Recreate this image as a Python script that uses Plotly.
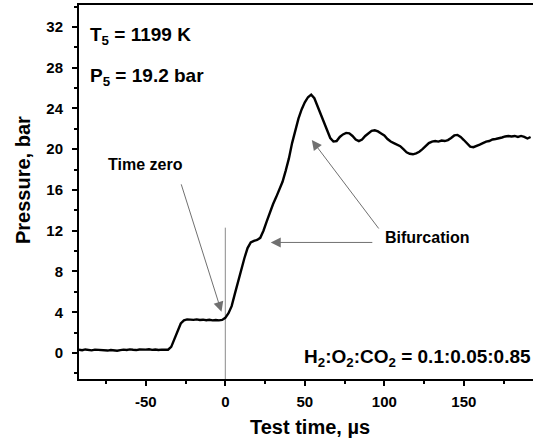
import plotly.graph_objects as go

time_us = [-92, -90, -88, -86, -84, -82, -80, -78, -76, -74, -72, -70, -68, -66, -64, -62, -60,
           -58, -56, -54, -52, -50, -48, -46, -44, -42, -40, -38, -36, -34, -32, -30, -28, -26,
           -24, -22, -20, -18, -16, -14, -12, -10, -8, -6, -4, -2, 0, 2, 4, 6, 8, 10, 12, 14,
           16, 18, 20, 22, 24, 26, 28, 30, 32, 34, 36, 38, 40, 42, 44, 46, 48, 50, 52, 54, 56,
           58, 60, 62, 64, 66, 68, 70, 72, 74, 76, 78, 80, 82, 84, 86, 88, 90, 92, 94, 96, 98,
           100, 102, 104, 106, 108, 110, 112, 114, 116, 118, 120, 122, 124, 126, 128, 130, 132,
           134, 136, 138, 140, 142, 144, 146, 148, 150, 152, 154, 156, 158, 160, 162, 164, 166,
           168, 170, 172, 174, 176, 178, 180, 182, 184, 186, 188, 190, 192]

pressure_bar = [0.32, 0.28, 0.35, 0.30, 0.26, 0.33, 0.29, 0.31, 0.27, 0.24, 0.30, 0.26, 0.22,
                0.28, 0.33, 0.30, 0.36, 0.32, 0.29, 0.34, 0.30, 0.33, 0.37, 0.31, 0.35, 0.30,
                0.33, 0.29, 0.32, 0.60, 1.35, 2.20, 2.90, 3.20, 3.30, 3.28, 3.25, 3.30, 3.24,
                3.27, 3.22, 3.26, 3.20, 3.24, 3.20, 3.25, 3.45, 3.90, 4.60, 5.80, 7.00, 8.20,
                9.30, 10.30, 10.85, 11.00, 11.10, 11.30, 12.00, 12.90, 13.80, 14.60, 15.30,
                16.10, 16.80, 17.90, 19.10, 20.60, 21.90, 23.00, 23.90, 24.60, 25.10, 25.35,
                25.00, 24.20, 23.40, 22.60, 21.80, 21.10, 20.75, 20.80, 21.20, 21.45, 21.60,
                21.55, 21.30, 20.95, 20.80, 20.95, 21.30, 21.60, 21.80, 21.85, 21.75, 21.55,
                21.35, 21.00, 20.75, 20.60, 20.45, 20.30, 20.00, 19.70, 19.55, 19.50, 19.60,
                19.75, 20.00, 20.35, 20.60, 20.75, 20.80, 20.75, 20.85, 20.80, 20.90, 21.10,
                21.35, 21.40, 21.20, 20.90, 20.55, 20.25, 20.20, 20.30, 20.45, 20.60, 20.75,
                20.80, 20.95, 21.00, 21.05, 21.15, 21.25, 21.30, 21.25, 21.30, 21.20, 21.30,
                21.20, 21.05, 21.20]

y_ticks = [0, 4, 8, 12, 16, 20, 24, 28, 32]
x_ticks = [-50, 0, 50, 100, 150]
x_tick_labels = ["-50", "0", "50", "100", "150"]

FONT = "Liberation Sans"

fig = go.Figure()
# time-zero marker line
fig.add_trace(go.Scatter(x=[0, 0], y=[-2.6, 12.3], mode="lines",
                         line=dict(color="#8a8a8a", width=1), hoverinfo="skip", showlegend=False))
fig.add_trace(go.Scatter(x=time_us, y=pressure_bar, mode="lines",
                         line=dict(color="black", width=2.4), showlegend=False))

fig.update_layout(
    width=533, height=444,
    margin=dict(l=79, r=0, t=5, b=65),
    paper_bgcolor="white", plot_bgcolor="white",
    font=dict(family=FONT, color="black"),
    showlegend=False,
)
fig.update_xaxes(
    range=[-92, 193.5], tickvals=x_ticks, ticktext=x_tick_labels, ticks="outside", ticklen=5,
    tickwidth=1.5, tickcolor="black", showline=True, linecolor="black", linewidth=2, mirror=True,
    showgrid=False, zeroline=False, tickfont=dict(size=15, family=FONT, weight="bold"),
    ticklabelstandoff=3,
    minor=dict(tickvals=[-75, -25, 25, 75, 125, 175], ticks="outside", ticklen=3,
               tickcolor="black", tickwidth=1.5),
)
fig.update_yaxes(
    range=[-2.55, 34.15], tickvals=y_ticks, ticks="outside", ticklen=5, tickwidth=1.5,
    tickcolor="black", showline=True, linecolor="black", linewidth=2, mirror=False,
    showgrid=False, zeroline=False, tickfont=dict(size=15, family=FONT, weight="bold"),
    ticklabelstandoff=6,
    minor=dict(dtick=2, tick0=0, ticks="outside", ticklen=3, tickcolor="black", tickwidth=1.5),
)

txt = dict(family=FONT, weight="bold", color="black")
# axis titles
fig.add_annotation(x=(310 - 79) / 454, y=(379 - 427) / 374, xref="paper", yref="paper",
                   text="Test time, µs", showarrow=False, xanchor="center", yanchor="middle",
                   font=dict(size=20, **txt))
fig.add_annotation(x=(23 - 79) / 454, y=(379 - 180) / 374, xref="paper", yref="paper",
                   text="Pressure, bar", showarrow=False, textangle=-90,
                   xanchor="center", yanchor="middle", font=dict(size=20, **txt))

fig.add_annotation(x=9 / 454, y=(379 - 36) / 374, xref="paper", yref="paper",
                   text="T<sub>5</sub> = 1199 K", showarrow=False, xanchor="left", yanchor="middle",
                   font=dict(size=19, **txt))
fig.add_annotation(x=9 / 454, y=(379 - 77) / 374, xref="paper", yref="paper",
                   text="P<sub>5</sub> = 19.2 bar", showarrow=False, xanchor="left", yanchor="middle",
                   font=dict(size=19, **txt))
fig.add_annotation(x=-50, y=18.5, xref="x", yref="y", text="Time zero", showarrow=False,
                   xanchor="center", yanchor="middle", font=dict(size=16, **txt))
fig.add_annotation(x=99, y=11.3, xref="x", yref="y", text="Bifurcation", showarrow=False,
                   xanchor="left", yanchor="middle", font=dict(size=16, **txt))
fig.add_annotation(x=1, y=(379 - 358) / 374, xref="paper", yref="paper",
                   text="H<sub>2</sub>:O<sub>2</sub>:CO<sub>2</sub> = 0.1:0.05:0.85",
                   showarrow=False, xanchor="right", yanchor="middle", font=dict(size=19, **txt))

arrow = dict(xref="x", yref="y", axref="x", ayref="y", showarrow=True, arrowhead=2,
             arrowsize=2, arrowwidth=1, arrowcolor="#707070", text="")
fig.add_annotation(x=-2.4, y=4.05, ax=-28, ay=16.7, **arrow)
fig.add_annotation(x=28.6, y=10.85, ax=93.4, ay=10.85, **arrow)
fig.add_annotation(x=54.4, y=20.9, ax=97.2, ay=12.07, **arrow)

fig.write_html("out.html")
